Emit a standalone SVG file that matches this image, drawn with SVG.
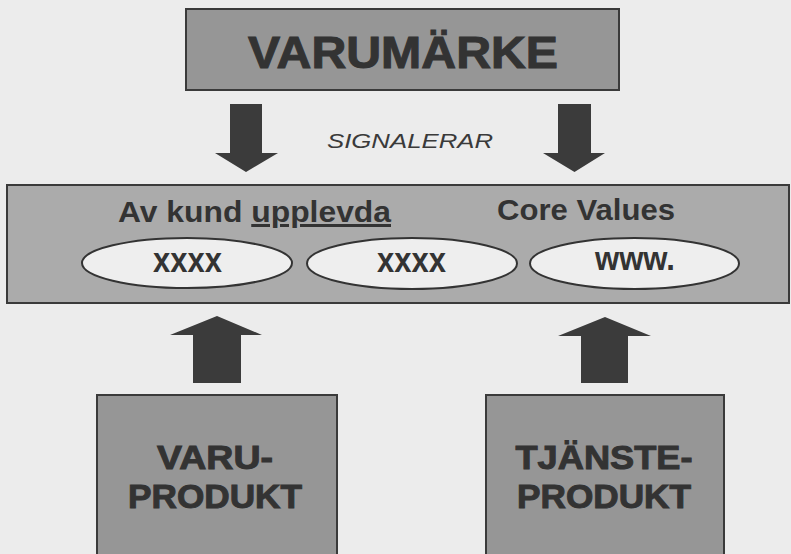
<svg xmlns="http://www.w3.org/2000/svg" width="791" height="554" viewBox="0 0 791 554">
  <style>
    .box { fill: #969696; stroke: #3a3a3a; stroke-width: 2; }
    .band { fill: #ababab; stroke: #3a3a3a; stroke-width: 2; }
    .oval { fill: #eeeeee; stroke: #333333; stroke-width: 2; }
    .arrow { fill: #3b3b3b; }
    .t { font-family: "Liberation Sans", Arial, sans-serif; font-weight: bold; fill: #333333; }
    .heavy { stroke: #333333; stroke-width: 1; }
    .sig { font-family: "Liberation Sans", Arial, sans-serif; font-style: italic; fill: #3a3a3a; }
  </style>
  <rect width="791" height="554" fill="#ececec"/>

  <g id="varumarke">
    <rect class="box" x="186" y="9" width="433" height="81"/>
    <text class="t heavy" x="248" y="68" font-size="44" textLength="310" lengthAdjust="spacingAndGlyphs">VARUMÄRKE</text>
  </g>

  <g id="signalerar-label">
    <text class="sig" x="327" y="148" font-size="21" textLength="166" lengthAdjust="spacingAndGlyphs">SIGNALERAR</text>
  </g>

  <g id="core-values">
    <rect class="band" x="7" y="185" width="782" height="118"/>
    <text class="t" x="118" y="222" font-size="30" textLength="273" lengthAdjust="spacingAndGlyphs">Av kund <tspan text-decoration="underline">upplevda</tspan></text>
    <text class="t" x="497" y="220" font-size="30" textLength="178" lengthAdjust="spacingAndGlyphs">Core Values</text>
  </g>

  <g id="value-1">
    <ellipse class="oval" cx="187" cy="263" rx="105" ry="25"/>
    <text class="t" x="153" y="272" font-size="35" textLength="69" lengthAdjust="spacingAndGlyphs">xxxx</text>
  </g>
  <g id="value-2">
    <ellipse class="oval" cx="412" cy="263.5" rx="105" ry="25.5"/>
    <text class="t" x="377" y="272" font-size="35" textLength="69" lengthAdjust="spacingAndGlyphs">xxxx</text>
  </g>
  <g id="value-3">
    <ellipse class="oval" cx="634.5" cy="263.5" rx="104.5" ry="25.5"/>
    <text class="t" x="595" y="270" font-size="34" textLength="80" lengthAdjust="spacingAndGlyphs">www.</text>
  </g>

  <g id="varuprodukt">
    <rect class="box" x="97" y="395" width="240" height="165"/>
    <text class="t heavy" x="215" y="469" font-size="34" text-anchor="middle" textLength="116" lengthAdjust="spacingAndGlyphs">VARU-</text>
    <text class="t heavy" x="215" y="508" font-size="34" text-anchor="middle" textLength="174" lengthAdjust="spacingAndGlyphs">PRODUKT</text>
  </g>

  <g id="tjansteprodukt">
    <rect class="box" x="486" y="395" width="238" height="165"/>
    <text class="t heavy" x="604" y="469" font-size="34" text-anchor="middle" textLength="177" lengthAdjust="spacingAndGlyphs">TJÄNSTE-</text>
    <text class="t heavy" x="604" y="508" font-size="34" text-anchor="middle" textLength="174" lengthAdjust="spacingAndGlyphs">PRODUKT</text>
  </g>

  <g id="connectors">
    <!-- block arrows from the brand down to the value band -->
    <polygon class="arrow" points="230,104 262,104 262,153 278,153 246,172 215,153 230,153"/>
    <polygon class="arrow" points="558,104 591,104 591,153 605,153 574.5,172 543,153 558,153"/>
    <!-- block arrows from the products up to the value band -->
    <polygon class="arrow" points="193,383 241,383 241,335 262,335 217,316 170,335 193,335"/>
    <polygon class="arrow" points="581,383 628,383 628,336 651,336 605,317 558,336 581,336"/>
  </g>
</svg>
